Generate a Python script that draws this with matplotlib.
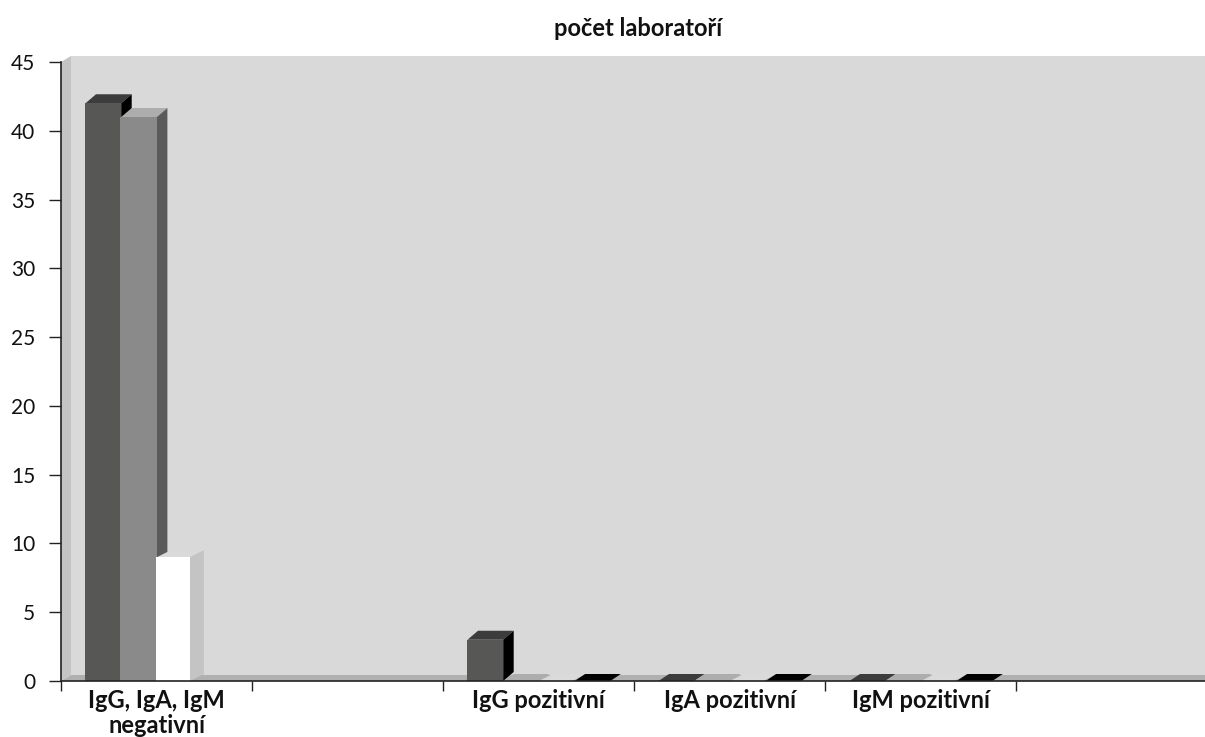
import matplotlib
matplotlib.use("Agg")
import matplotlib.pyplot as plt
from matplotlib.patches import Polygon

plt.rcParams['font.family'] = ['Lato', 'DejaVu Sans']

title = "počet laboratoří"
categories = ["IgG, IgA, IgM\nnegativní", "", "IgG pozitivní", "IgA pozitivní", "IgM pozitivní", ""]
series_a = [42, None, 3, 0, 0, None]
series_b = [41, None, 0, 0, 0, None]
series_c = [9, None, 0, 0, 0, None]
series_d = [None, None, 0, 0, 0, None]
y_ticks = [0, 5, 10, 15, 20, 25, 30, 35, 40, 45]

# front, top, side colours per series
styles = [("#575755", "#3c3c3c", "#000000"),
          ("#8a8a8a", "#adadad", "#5a5a5a"),
          ("#ffffff", "#dadada", "#c4c4c4"),
          ("#000000", "#000000", "#000000")]
W, H = 1205, 737
L, R, B, T = 61, 1207, 681, 62
fig = plt.figure(figsize=(W / 100, H / 100), dpi=100, facecolor="white")
ax = fig.add_axes([L / W, 1 - B / H, (R - L) / W, (B - T) / H])
ax.set_xlim(0, len(categories))
ax.set_ylim(0, y_ticks[-1])
ax.patch.set_visible(False)

px = len(categories) / (R - L)          # category units per pixel
py = y_ticks[-1] / (B - T)              # value units per pixel
wx, wy = 10 * px, 6 * py                # wall depth


def poly(pts, color, z=1):
    ax.add_patch(Polygon(pts, closed=True, facecolor=color, edgecolor="none",
                         clip_on=False, zorder=z))


n = len(categories)
top = y_ticks[-1]
poly([(wx, wy), (n, wy), (n, top + wy), (wx, top + wy)], "#d9d9d9")
poly([(0, 0), (wx, wy), (wx, top + wy), (0, top)], "#c4c4c4")
poly([(0, 0), (n, 0), (n, wy), (wx, wy)], "#b0b0b0")

offset = 24.5 * px
step = 35.7 * px
series = [series_a, series_b, series_c, series_d]
for i in range(n):
    for s, vals in enumerate(series):
        v = vals[i]
        if v is None:
            continue
        x0 = i + offset + s * step
        w = (33 if s == 2 else 35.7) * px
        dx = (14 if s == 2 else 10.5) * px
        dy = (7 if s == 2 or v == 0 else 9) * py
        front, topc, side = styles[s]
        z = 2 + i + s * 0.1
        ax.bar(x0 - 1.0 * px, v, width=w + 1.0 * px, align="edge", color=front, linewidth=0, zorder=z + 0.01)
        poly([(x0, v), (x0 + w, v), (x0 + w + dx, v + dy), (x0 + dx, v + dy)], topc, z)
        poly([(x0 + w, 0), (x0 + w + dx, dy), (x0 + w + dx, v + dy), (x0 + w, v)], side, z)

for sp in ("top", "right"):
    ax.spines[sp].set_visible(False)
for sp in ("left", "bottom"):
    ax.spines[sp].set_color("#222222")
    ax.spines[sp].set_linewidth(1.2)
    ax.spines[sp].set_zorder(50)

ax.set_yticks(y_ticks)
ax.tick_params(axis="y", length=8.6, width=1.0, color="#222222", labelsize=15, pad=10, labelcolor="#111111")
ax.set_xticks(range(n + 1))
ax.set_xticklabels([])
ax.tick_params(axis="x", which="major", length=7.2, width=1.0, color="#222222")
ax.set_xticks([i + 0.5 for i in range(n)], minor=True)
ax.set_xticklabels(categories, minor=True, fontweight="bold", fontsize=17, color="#111111",
                   linespacing=1.08, va="top")
ax.tick_params(axis="x", which="minor", length=0, pad=6)

fig.text(638 / W, 1 - 28 / H, title, ha="center", va="center", fontweight="bold", fontsize=17, color="#111111")
fig.savefig("out.png", dpi=100)
